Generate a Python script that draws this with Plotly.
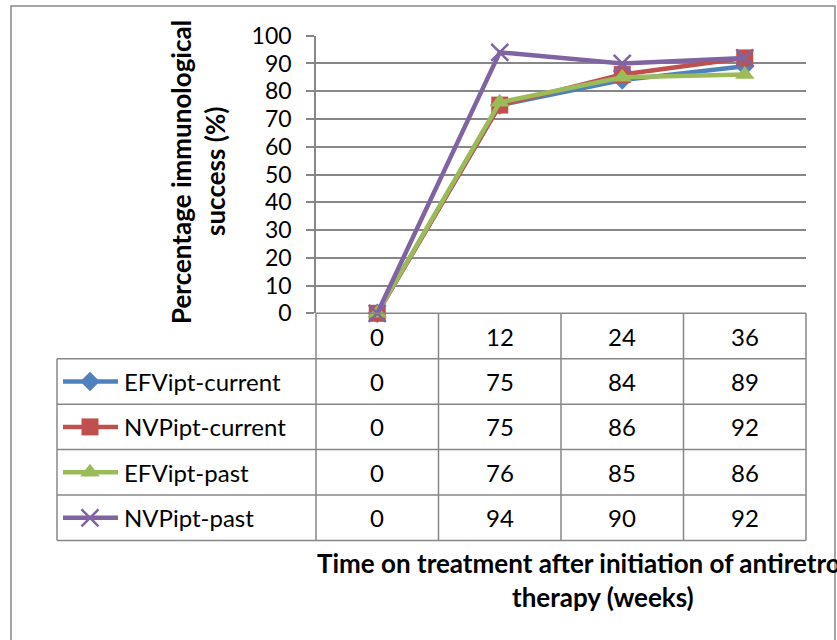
import plotly.graph_objects as go

# ---------------- data ----------------
weeks = [0, 12, 24, 36]
series_names = ["EFVipt-current", "NVPipt-current", "EFVipt-past", "NVPipt-past"]
efv_current = [0, 75, 84, 89]
nvp_current = [0, 75, 86, 92]
efv_past = [0, 76, 85, 86]
nvp_past = [0, 94, 90, 92]
y_tick_values = [0, 10, 20, 30, 40, 50, 60, 70, 80, 90, 100]
y_title_lines = ["Percentage immunological", "success (%)"]
x_title_lines = ["Time on treatment after initiation of antiretroviral", "therapy (weeks)"]

series_values = [efv_current, nvp_current, efv_past, nvp_past]

# ---------------- styles / layout constants ----------------
W, H = 837, 640
def fx(p):
    return p / W
def fy(p):
    return 1 - p / H

colors = ["#4F81BD", "#C0504D", "#9BBB59", "#8064A2"]
symbols = ["diamond", "square", "triangle-up", "x-thin-open"]
sizes = [15, 17, 17, 17]
GRID = "#878787"
FONT = "Lato"
FS_TICK = 23
FS_TAB = 24
FS_TITLE = 26

PLOT_L, PLOT_R = 316, 806
PLOT_T, PLOT_B = 35.7, 313.3
TAB_L, TAB_T, TAB_B = 57, 313.3, 540.5
PAD = 3

ncol = len(weeks)
nrow = len(series_names) + 1
colw = (PLOT_R - PLOT_L) / ncol
rowh = (TAB_B - TAB_T) / nrow
x2_left = -0.5 - (PLOT_L - TAB_L) / colw
x2_right = ncol - 0.5
y2_top = -0.5
y2_bot = nrow - 0.5

fig = go.Figure()

# ---------------- main line chart ----------------
xs = list(range(ncol))
for name, vals, c, s, sz in zip(series_names, series_values, colors, symbols, sizes):
    fig.add_trace(go.Scatter(
        x=xs, y=vals, mode="lines+markers", name=name,
        line=dict(color=c, width=4.5),
        marker=dict(symbol=s, size=sz, color=c,
                    line=dict(color=c, width=2.5 if "x" in s else 0)),
        cliponaxis=False, xaxis="x", yaxis="y", showlegend=False,
    ))

# ---------------- legend keys inside the data table ----------------
key_x0 = x2_left + 6 / colw
key_x1 = x2_left + 61 / colw
key_xm = x2_left + 33 / colw
for i, (c, s, sz) in enumerate(zip(colors, symbols, sizes)):
    r = i + 1
    fig.add_trace(go.Scatter(
        x=[key_x0, key_x1], y=[r, r], mode="lines",
        line=dict(color=c, width=4.5), xaxis="x2", yaxis="y2",
        showlegend=False, hoverinfo="skip"))
    fig.add_trace(go.Scatter(
        x=[key_xm], y=[r], mode="markers",
        marker=dict(symbol=s, size=sz, color=c,
                    line=dict(color=c, width=2.5 if "x" in s else 0)),
        xaxis="x2", yaxis="y2", showlegend=False, hoverinfo="skip",
        cliponaxis=False))

def ann(**kw):
    base = dict(showarrow=False, xanchor="center", yanchor="middle")
    base.update(kw)
    return base

annotations = []
tab_font = dict(family=FONT, size=FS_TAB, color="black")
# header row (weeks)
for j, w in enumerate(weeks):
    annotations.append(ann(x=j, y=0, xref="x2", yref="y2", text=str(w), font=tab_font))
# value rows
for i, (name, vals) in enumerate(zip(series_names, series_values)):
    r = i + 1
    annotations.append(ann(x=x2_left + 65 / colw, y=r, xref="x2", yref="y2", text=name,
                           xanchor="left", font=tab_font))
    for j, v in enumerate(vals):
        annotations.append(ann(x=j, y=r, xref="x2", yref="y2", text=str(v), font=tab_font))

# axis titles
title_font = dict(family=FONT, size=FS_TITLE, color="black")
annotations.append(ann(x=fx(181), y=fy(172), xref="paper", yref="paper",
                       text="<b>%s</b>" % y_title_lines[0], textangle=-90, font=title_font))
annotations.append(ann(x=fx(215), y=fy(172), xref="paper", yref="paper",
                       text="<b>%s</b>" % y_title_lines[1], textangle=-90, font=title_font))
annotations.append(ann(x=fx(603), y=fy(563), xref="paper", yref="paper",
                       text="<b>%s</b>" % x_title_lines[0], font=title_font))
annotations.append(ann(x=fx(603), y=fy(597), xref="paper", yref="paper",
                       text="<b>%s</b>" % x_title_lines[1], font=title_font))

# ---------------- table grid lines ----------------
shapes = []
ln = dict(color=GRID, width=1.5)
for k in range(nrow + 1):
    yv = -0.5 + k
    x0 = -0.5 if k == 0 else x2_left
    shapes.append(dict(type="line", xref="x2", yref="y2", x0=x0, x1=x2_right, y0=yv, y1=yv, line=ln))
shapes.append(dict(type="line", xref="x2", yref="y2", x0=x2_left, x1=x2_left, y0=0.5, y1=y2_bot, line=ln))
for j in range(ncol + 1):
    xv = -0.5 + j
    shapes.append(dict(type="line", xref="x2", yref="y2", x0=xv, x1=xv, y0=y2_top, y1=y2_bot, line=ln))
# outer chart border
shapes.append(dict(type="rect", xref="paper", yref="paper", x0=fx(11), x1=fx(835),
                   y0=-0.05, y1=fy(6), line=dict(color="#888888", width=1.5)))

fig.update_layout(
    width=W, height=H, margin=dict(l=0, r=0, t=0, b=0, pad=0, autoexpand=False),
    paper_bgcolor="white", plot_bgcolor="rgba(0,0,0,0)",
    showlegend=False,
    xaxis=dict(domain=[fx(PLOT_L), fx(PLOT_R)], range=[-0.5, ncol - 0.5],
               showgrid=False, zeroline=False, showline=False, showticklabels=False,
               ticks="", fixedrange=True, anchor="y", automargin=False),
    yaxis=dict(domain=[fy(PLOT_B), fy(PLOT_T)], range=[0, 100],
               tickvals=y_tick_values, showgrid=True, gridcolor=GRID, gridwidth=1.5,
               zeroline=False, showline=True, linecolor=GRID, linewidth=1.5,
               ticks="outside", ticklen=8, tickcolor=GRID, tickwidth=1.5,
               ticklabelstandoff=10, automargin=False,
               tickfont=dict(family=FONT, size=FS_TICK, color="black"), anchor="x"),
    xaxis2=dict(domain=[fx(TAB_L - PAD), fx(PLOT_R + PAD)],
                range=[x2_left - PAD / colw, x2_right + PAD / colw],
                visible=False, anchor="y2", automargin=False),
    yaxis2=dict(domain=[fy(TAB_B + PAD), fy(TAB_T - PAD)],
                range=[y2_bot + PAD / rowh, y2_top - PAD / rowh],
                visible=False, anchor="x2", automargin=False),
    annotations=annotations,
    shapes=shapes,
)

fig.write_html("out.html")
